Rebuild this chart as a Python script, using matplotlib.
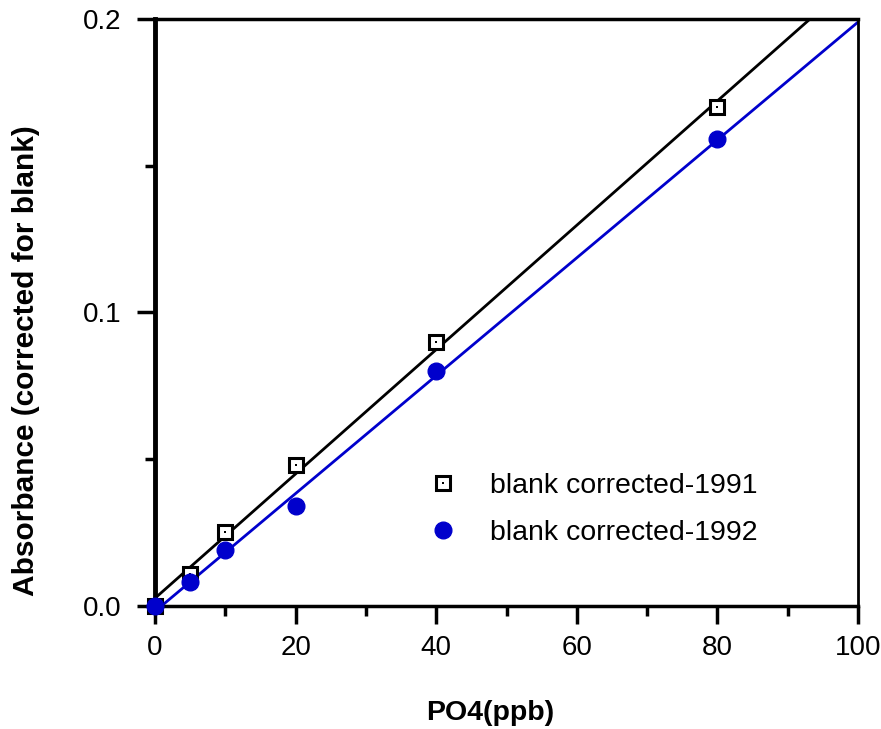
import numpy as np
import matplotlib
matplotlib.use('Agg')
import matplotlib.pyplot as plt
from matplotlib.legend_handler import HandlerTuple

plt.rcParams['font.family'] = ['Liberation Sans', 'DejaVu Sans']

# данные
conc = [0, 5, 10, 20, 40, 80]
abs_1991 = [0.000, 0.011, 0.025, 0.048, 0.090, 0.170]
abs_1992 = [0.000, 0.008, 0.019, 0.034, 0.080, 0.159]
labels = ['blank corrected-1991', 'blank corrected-1992']

blue = '#0000CC'

fig = plt.figure(figsize=(8.81, 7.29), dpi=100)
ax = fig.add_axes([0.176, 0.169, 0.798, 0.805])

# линии регрессии
xfit = np.array([0, 100])
k1, b1 = np.polyfit(conc, abs_1991, 1)
k2, b2 = np.polyfit(conc, abs_1992, 1)
ax.plot(xfit, k1 * xfit + b1, color='black', lw=2, zorder=2)
ax.plot(xfit, k2 * xfit + b2, color=blue, lw=2, zorder=2)

sq, = ax.plot(conc, abs_1991, 's', ms=10, mfc='white', mec='black', mew=2.2,
              clip_on=False, zorder=3)
dot, = ax.plot(conc, abs_1991, 's', ms=2, mfc='black', mec='black', mew=0,
               clip_on=False, zorder=4)
circ, = ax.plot(conc, abs_1992, 'o', ms=12, color=blue, mec=blue,
                clip_on=False, zorder=5)

ax.set_xlim(0, 100)
ax.set_ylim(0, 0.2)
ax.set_xticks([0, 20, 40, 60, 80, 100])
ax.set_xticks([10, 30, 50, 70, 90], minor=True)
ax.set_yticks([0, 0.1, 0.2])
ax.set_yticks([0.05, 0.15], minor=True)
ax.set_yticklabels(['0.0', '0.1', '0.2'])

ax.tick_params(which='major', length=13, width=2.5, labelsize=20,
               direction='out')
ax.tick_params(which='minor', length=7, width=2.5, direction='out')
ax.tick_params(axis='x', which='major', pad=8)
ax.tick_params(axis='y', which='major', pad=11)
ax.spines['left'].set_linewidth(3.5)
ax.spines['bottom'].set_linewidth(2.5)
ax.spines['top'].set_linewidth(2.5)
ax.spines['right'].set_linewidth(2)

ax.set_xlabel('PO4(ppb)', fontsize=20.5, fontweight='bold')
ax.set_ylabel('Absorbance (corrected for blank)', fontsize=21.5, fontweight='bold')
ax.xaxis.set_label_coords(0.477, -0.16)
ax.yaxis.set_label_coords(-0.163, 0.417)

ax.legend([(sq, dot), circ], labels, handler_map={tuple: HandlerTuple(ndivide=1)},
          loc='center left', bbox_to_anchor=(0.353, 0.164), frameon=False,
          fontsize=20.5, handlelength=1.0, handletextpad=1.15, labelspacing=0.75,
          numpoints=1)

plt.savefig('out.png', dpi=100)
